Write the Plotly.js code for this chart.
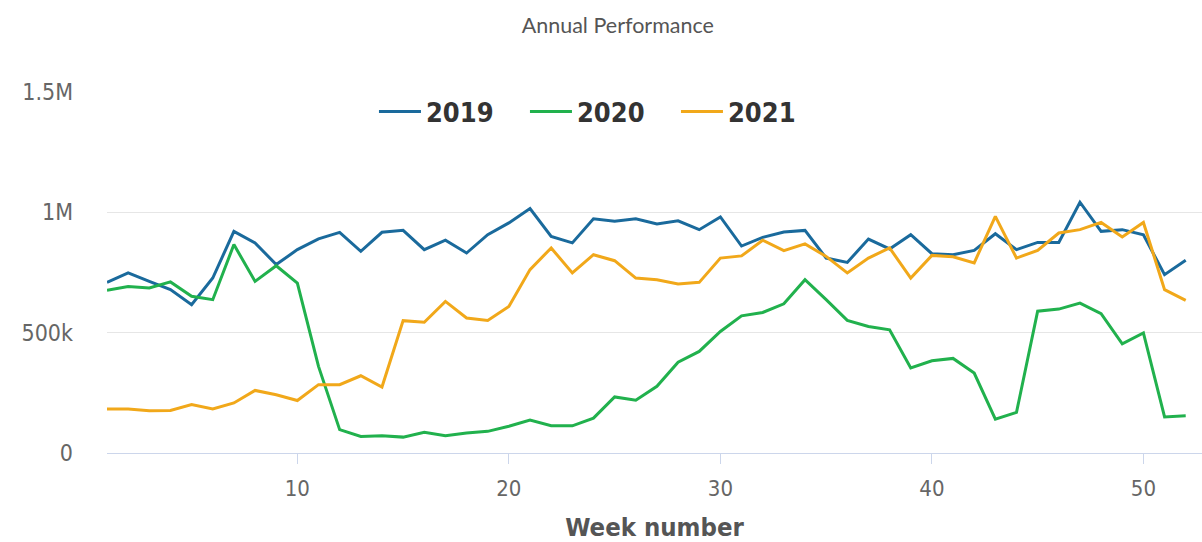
<!DOCTYPE html>
<html>
<head>
<meta charset="utf-8">
<script src="https://cdn.plot.ly/plotly-3.0.1.min.js"></script>
<style>html,body{margin:0;padding:0;background:#fff}#chart{width:1202px;height:542px}</style>
</head>
<body>
<div id="chart"></div>
<script>
const weeks = [1,2,3,4,5,6,7,8,9,10,11,12,13,14,15,16,17,18,19,20,21,22,23,24,25,26,27,28,29,30,31,32,33,34,35,36,37,38,39,40,41,42,43,44,45,46,47,48,49,50,51,52];
const series2019 = [709000,748000,713000,679000,616000,727000,921000,873000,783000,845000,890000,917000,838000,917000,925000,845000,884000,831000,907000,956000,1016000,900000,873000,973000,963000,973000,952000,965000,928000,981000,860000,896000,918000,925000,810000,792000,889000,848000,907000,828000,824000,842000,911000,845000,875000,875000,1042000,921000,928000,907000,741000,801000];
const series2020 = [676000,692000,686000,711000,651000,637000,866000,713000,778000,706000,360000,97000,69000,72000,66000,86000,72000,83000,90000,111000,137000,113000,113000,145000,233000,219000,277000,377000,422000,505000,570000,584000,620000,720000,637000,551000,526000,512000,353000,383000,393000,332000,141000,169000,589000,598000,623000,579000,454000,499000,150000,155000];
const series2021 = [183000,183000,176000,177000,201000,183000,208000,260000,242000,218000,284000,284000,321000,274000,550000,543000,630000,561000,551000,609000,762000,852000,748000,824000,799000,727000,720000,702000,709000,810000,819000,884000,841000,869000,817000,748000,810000,852000,727000,821000,815000,790000,983000,810000,842000,914000,928000,958000,898000,958000,679000,634000];
const seriesNames = ["2019","2020","2021"];
const seriesColors = ["#1a6a9c","#21b14d","#f1a81a"];
const yTickVals = [0,500000,1000000,1500000];
const yTickText = ["0","500k","1M","1.5M"];
const xTickVals = [10,20,30,40,50];

const allSeries = [series2019, series2020, series2021];
const traces = allSeries.map((s,i)=>({
  type:'scatter', mode:'lines', x:weeks, y:s, name:seriesNames[i],
  line:{color:seriesColors[i], width:3}, hoverinfo:'x+y'
}));

const condensed = '"DejaVu Sans Condensed", "Liberation Sans Narrow", "DejaVu Sans", sans-serif';
const layout = {
  width:1202, height:542,
  margin:{l:107, r:0, t:92, b:89, autoexpand:false},
  paper_bgcolor:'#ffffff', plot_bgcolor:'#ffffff',
  title:{text:'Annual Performance', x:0.514, xref:'container', xanchor:'center', y:0.953, yref:'container', yanchor:'middle',
    font:{family:'Lato, "Open Sans", sans-serif', size:21.5, color:'#555555'}},
  showlegend:true,
  legend:{orientation:'h', x:0.2438, xref:'paper', xanchor:'left', y:0.9446, yref:'paper', yanchor:'middle',
    font:{family:condensed, size:27, color:'#333333', weight:'bold'}, bgcolor:'rgba(0,0,0,0)',
    entrywidth:94, entrywidthmode:'pixels', itemwidth:42},
  xaxis:{range:[1,52.77], tickvals:xTickVals, ticks:'outside', ticklen:10, tickwidth:1, tickcolor:'#ccd6eb',
    showline:true, linecolor:'#ccd6eb', linewidth:1, showgrid:false, zeroline:false,
    tickfont:{family:condensed, size:22, color:'#666666'}, ticklabelstandoff:6,
    title:{text:'Week number', font:{family:condensed, size:25.5, color:'#555555', weight:'bold'}, standoff:17}},
  yaxis:{range:[0,1500000], tickvals:yTickVals, ticktext:yTickText, showgrid:true, gridcolor:'#e6e6e6', gridwidth:1,
    zeroline:false, showline:false, ticks:'', tickfont:{family:condensed, size:23, color:'#666666'}, ticklabelstandoff:33}
};
Plotly.newPlot('chart', traces, layout, {displayModeBar:false, staticPlot:true});
</script>
</body>
</html>
